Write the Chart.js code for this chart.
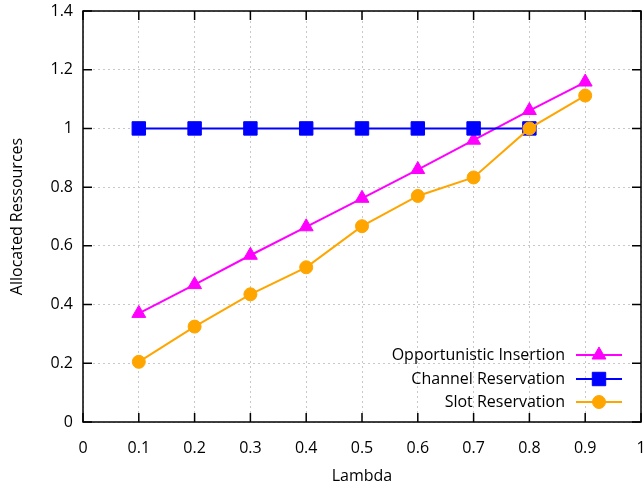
<!DOCTYPE html>
<html>
<head>
<meta charset="utf-8">
<script src="https://cdn.jsdelivr.net/npm/chart.js@4"></script>
<style>
html,body{margin:0;padding:0;background:#fff;}
#wrap{width:644px;height:489px;}
</style>
</head>
<body>
<div id="wrap"><canvas id="c" width="644" height="489"></canvas></div>
<script>
const lambdas = [0.1, 0.2, 0.3, 0.4, 0.5, 0.6, 0.7, 0.8, 0.9];
const channelLambdas = [0.1, 0.2, 0.3, 0.4, 0.5, 0.6, 0.7, 0.8];
const opportunistic = [0.37, 0.468, 0.568, 0.665, 0.762, 0.86, 0.96, 1.061, 1.158];
const channel = [1, 1, 1, 1, 1, 1, 1, 1];
const slot = [0.205, 0.325, 0.435, 0.527, 0.667, 0.77, 0.833, 1.0, 1.112];
const seriesNames = ['Opportunistic Insertion', 'Channel Reservation', 'Slot Reservation'];
const xTitle = 'Lambda';
const yTitle = 'Allocated Ressources';

const FONT = "'Open Sans', sans-serif";
const colors = {opp: '#ff00ff', chan: '#0000ff', slot: '#ffa500'};

function pts(xs, ys){ return xs.map((x,i)=>({x:x, y:ys[i]})); }
function fmt(v){ return String(Math.round(v*10)/10); }
function noPad(s){ s.paddingLeft = 0; s.paddingRight = 0; s.paddingTop = 0; s.paddingBottom = 0; }

function drawMarker(ctx, style, r, x, y, color){
  ctx.save();
  ctx.fillStyle = color; ctx.strokeStyle = color; ctx.lineWidth = 1;
  ctx.beginPath();
  if (style === 'triangle'){
    ctx.moveTo(x, y - r);
    ctx.lineTo(x + Math.cos(Math.PI/6)*r, y + r/2);
    ctx.lineTo(x - Math.cos(Math.PI/6)*r, y + r/2);
    ctx.closePath();
  } else if (style === 'rect'){
    const s = Math.SQRT1_2 * r;
    ctx.rect(x - s, y - s, 2*s, 2*s);
  } else {
    ctx.arc(x, y, r, 0, Math.PI*2);
  }
  ctx.fill(); ctx.stroke();
  ctx.restore();
}

const framePlugin = {
  id: 'frame',
  afterDatasetsDraw(chart){
    const {ctx, chartArea: a, scales} = chart;
    ctx.save();
    ctx.strokeStyle = '#000';
    ctx.lineWidth = 1.5;
    ctx.beginPath();
    scales.x.ticks.forEach(t => {
      const px = scales.x.getPixelForValue(t.value);
      ctx.moveTo(px, a.bottom); ctx.lineTo(px, a.bottom - 9);
      ctx.moveTo(px, a.top); ctx.lineTo(px, a.top + 9);
    });
    scales.y.ticks.forEach(t => {
      const py = scales.y.getPixelForValue(t.value);
      ctx.moveTo(a.left, py); ctx.lineTo(a.left + 9, py);
      ctx.moveTo(a.right, py); ctx.lineTo(a.right - 9, py);
    });
    ctx.stroke();
    ctx.strokeRect(a.left, a.top, a.right - a.left, a.bottom - a.top);
    ctx.restore();

    const items = [
      {name: seriesNames[0], color: colors.opp, style: 'triangle', r: 8},
      {name: seriesNames[1], color: colors.chan, style: 'rect', r: 9.5},
      {name: seriesNames[2], color: colors.slot, style: 'circle', r: 6.5}
    ];
    const rowY = [355, 379, 402];
    ctx.save();
    ctx.font = '16px ' + FONT;
    ctx.textAlign = 'right';
    ctx.textBaseline = 'middle';
    items.forEach((it, i) => {
      const y = rowY[i];
      ctx.fillStyle = '#000';
      ctx.fillText(it.name, 565, y);
      ctx.strokeStyle = it.color;
      ctx.lineWidth = 2;
      ctx.beginPath(); ctx.moveTo(576, y); ctx.lineTo(622, y); ctx.stroke();
      drawMarker(ctx, it.style, it.r, 599, y, it.color);
    });
    ctx.restore();
  }
};

new Chart(document.getElementById('c'), {
  type: 'line',
  data: {
    datasets: [
      {label: seriesNames[2], data: pts(lambdas, slot), borderColor: colors.slot, backgroundColor: colors.slot,
       pointStyle: 'circle', pointRadius: 6.5, pointBorderWidth: 1, borderWidth: 2},
      {label: seriesNames[1], data: pts(channelLambdas, channel), borderColor: colors.chan, backgroundColor: colors.chan,
       pointStyle: 'rect', pointRadius: 9.5, pointBorderWidth: 1, borderWidth: 2},
      {label: seriesNames[0], data: pts(lambdas, opportunistic), borderColor: colors.opp, backgroundColor: colors.opp,
       pointStyle: 'triangle', pointRadius: 8, pointBorderWidth: 1, borderWidth: 2}
    ]
  },
  options: {
    responsive: false,
    animation: false,
    events: [],
    layout: {autoPadding: false, padding: {left: 0, right: 3, top: 11, bottom: 0}},
    plugins: {legend: {display: false}, tooltip: {enabled: false}},
    scales: {
      x: {
        type: 'linear', min: 0, max: 1,
        ticks: {stepSize: 0.1, color: '#000', font: {family: FONT, size: 16}, padding: 17, maxRotation: 0, autoSkip: false, callback: fmt},
        grid: {color: '#c8c8c8', lineWidth: 1, drawTicks: false},
        border: {display: false, dash: [2, 3]},
        title: {display: true, text: xTitle, color: '#000', font: {family: FONT, size: 16}, padding: {top: 0, bottom: 3}},
        afterFit(s){ s.height = 67; noPad(s); }
      },
      y: {
        type: 'linear', min: 0, max: 1.4,
        ticks: {stepSize: 0.2, color: '#000', font: {family: FONT, size: 16}, padding: 10, callback: fmt},
        grid: {color: '#c8c8c8', lineWidth: 1, drawTicks: false},
        border: {display: false, dash: [2, 3]},
        title: {display: true, text: yTitle, color: '#000', font: {family: FONT, size: 16}, padding: {top: 8, bottom: 0}},
        afterFit(s){ s.width = 83; noPad(s); }
      }
    }
  },
  plugins: [framePlugin]
});
</script>
</body>
</html>
